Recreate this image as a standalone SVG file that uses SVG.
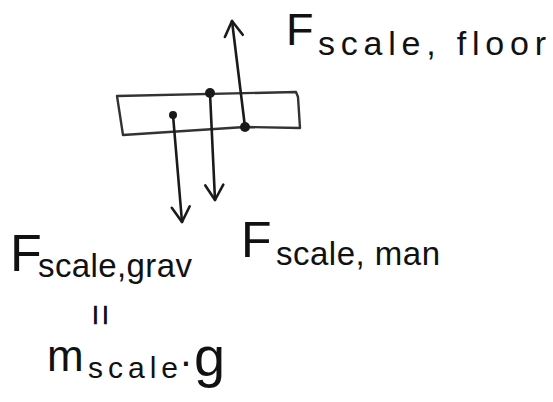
<svg xmlns="http://www.w3.org/2000/svg" width="553" height="402" viewBox="0 0 553 402">
<style>
.ln{fill:none;stroke:#1a1a1a;stroke-width:2.6;stroke-linecap:round;stroke-linejoin:round}
.box{fill:none;stroke:#333;stroke-width:2.4;stroke-linejoin:round}
.dot{fill:#1a1a1a}
text{font-family:"Liberation Sans","Open Sans",sans-serif;fill:#111}
</style>
<defs>
<marker id="head" markerUnits="userSpaceOnUse" markerWidth="30" markerHeight="30" refX="0" refY="0" viewBox="-20 -15 30 30" orient="auto" overflow="visible">
<path d="M-15,-9 L0,0 L-15,9" fill="none" stroke="#1a1a1a" stroke-width="2.6" stroke-linecap="round" stroke-linejoin="round"/>
</marker>
</defs>
<rect width="553" height="402" fill="#fff"/>
<g id="scale">
<path class="box" d="M117,96 L296,92 L298,97 L300,128 L245,127 L123,135 Z"/>
</g>
<g id="connectors">
<path class="ln" d="M245,127 L232,21" marker-end="url(#head)"/>
<path class="ln" d="M210,93 L215,200" marker-end="url(#head)"/>
<path class="ln" d="M173,115 L182,222" marker-end="url(#head)"/>
<circle class="dot" cx="245" cy="127" r="5"/>
<circle class="dot" cx="210" cy="93" r="5"/>
<circle class="dot" cx="173" cy="115" r="4"/>
</g>
<g id="label-floor">
<text x="286" y="45" font-size="45">F</text>
<text x="318" y="55" font-size="34" textLength="228" lengthAdjust="spacing">scale, floor</text>
</g>
<g id="label-grav">
<text x="10" y="271" font-size="52">F</text>
<text x="38" y="277" font-size="33" textLength="154" lengthAdjust="spacing">scale,grav</text>
</g>
<g id="label-man">
<text x="241" y="257" font-size="50">F</text>
<text x="276" y="265" font-size="33" textLength="164" lengthAdjust="spacing">scale, man</text>
</g>
<g id="equals">
<text transform="translate(99,315) rotate(90)" x="0" y="12" font-size="38" text-anchor="middle">=</text>
</g>
<g id="label-mg">
<text x="47" y="371" font-size="44">m</text>
<text x="88" y="378" font-size="30" textLength="90" lengthAdjust="spacing">scale</text>
<text x="186" y="375" font-size="40" text-anchor="middle">·</text>
<text x="194" y="376" font-size="56">g</text>
</g>
</svg>
